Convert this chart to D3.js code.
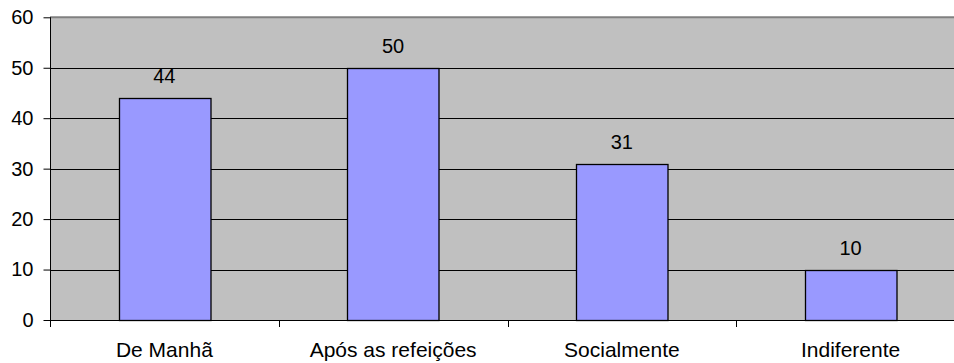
<!DOCTYPE html>
<html>
<head>
<meta charset="utf-8">
<script src="https://cdn.jsdelivr.net/npm/d3@7"></script>
<style>
  html, body { margin: 0; padding: 0; background: #fff; }
  svg { display: block; }
  text { font-family: "Liberation Sans", Arial, sans-serif; fill: #000; }
</style>
</head>
<body>
<svg id="chart" width="954" height="363"></svg>
<script>
// Chart data
const categories = ["De Manhã", "Após as refeições", "Socialmente", "Indiferente"];
const values = [44, 50, 31, 10];
const yTicks = [0, 10, 20, 30, 40, 50, 60];

const W = 954, H = 363;
const plot = { left: 50, right: 965, top: 17.3, bottom: 320 };
const numSize = 20;
const catSize = 21;

const svg = d3.select("#chart");

const x = d3.scaleBand()
  .domain(categories)
  .range([plot.left, plot.right])
  .paddingInner(0.6)
  .paddingOuter(0.3);

// Band for the category slots (ticks sit between slots)
const slot = d3.scaleBand()
  .domain(categories)
  .range([plot.left, plot.right]);

const y = d3.scaleLinear()
  .domain([0, 60])
  .range([plot.bottom, plot.top]);

// Plot background
svg.append("rect")
  .attr("x", plot.left)
  .attr("y", plot.top)
  .attr("width", plot.right - plot.left)
  .attr("height", plot.bottom - plot.top)
  .attr("fill", "#c0c0c0");

// Horizontal gridlines
svg.append("g")
  .selectAll("line")
  .data(yTicks.filter(d => d > 0 && d < 60))
  .join("line")
  .attr("x1", plot.left)
  .attr("x2", plot.right)
  .attr("y1", d => Math.round(y(d)) + 0.5)
  .attr("y2", d => Math.round(y(d)) + 0.5)
  .attr("stroke", "#000")
  .attr("stroke-width", 1);

// Top frame edge
svg.append("line")
  .attr("x1", plot.left)
  .attr("x2", plot.right)
  .attr("y1", y(60))
  .attr("y2", y(60))
  .attr("stroke", "#808080")
  .attr("stroke-width", 2);

// Bars
svg.append("g")
  .selectAll("rect")
  .data(values)
  .join("rect")
  .attr("x", (d, i) => Math.round(x(categories[i])) + 0.5)
  .attr("y", d => Math.round(y(d)) + 0.5)
  .attr("width", x.bandwidth())
  .attr("height", d => Math.round(y(0)) - Math.round(y(d)))
  .attr("fill", "#9999ff")
  .attr("stroke", "#000")
  .attr("stroke-width", 1.3);

// Value labels
svg.append("g")
  .selectAll("text")
  .data(values)
  .join("text")
  .attr("x", (d, i) => x(categories[i]) + x.bandwidth() / 2)
  .attr("y", d => y(d) - 15)
  .attr("text-anchor", "middle")
  .style("font-size", numSize + "px")
  .text(d => d);

// Y axis
const yAxis = d3.axisLeft(y)
  .tickValues(yTicks)
  .tickSize(7)
  .tickPadding(10);
const gy = svg.append("g")
  .attr("transform", `translate(${plot.left + 0.5},0)`)
  .call(yAxis);
gy.select(".domain").remove();
gy.append("line")
  .attr("x1", 0).attr("x2", 0)
  .attr("y1", plot.top).attr("y2", plot.bottom + 7)
  .attr("stroke", "#000");
gy.selectAll(".tick line").attr("stroke", "#000");
gy.selectAll(".tick text")
  .style("font-size", numSize + "px")
  .style("font-family", "'Liberation Sans', Arial, sans-serif")
  .attr("fill", "#000");

// X axis baseline and slot ticks
svg.append("line")
  .attr("x1", plot.left)
  .attr("x2", plot.right)
  .attr("y1", Math.round(y(0)) + 0.5)
  .attr("y2", Math.round(y(0)) + 0.5)
  .attr("stroke", "#000");

svg.append("g")
  .selectAll("line")
  .data(categories.slice(1))
  .join("line")
  .attr("x1", d => Math.round(slot(d)) + 0.5)
  .attr("x2", d => Math.round(slot(d)) + 0.5)
  .attr("y1", Math.round(y(0)))
  .attr("y2", Math.round(y(0)) + 7)
  .attr("stroke", "#000");

// Category labels
svg.append("g")
  .selectAll("text")
  .data(categories)
  .join("text")
  .attr("x", d => slot(d) + slot.bandwidth() / 2)
  .attr("y", 357)
  .attr("text-anchor", "middle")
  .style("font-size", catSize + "px")
  .text(d => d);
</script>
</body>
</html>
